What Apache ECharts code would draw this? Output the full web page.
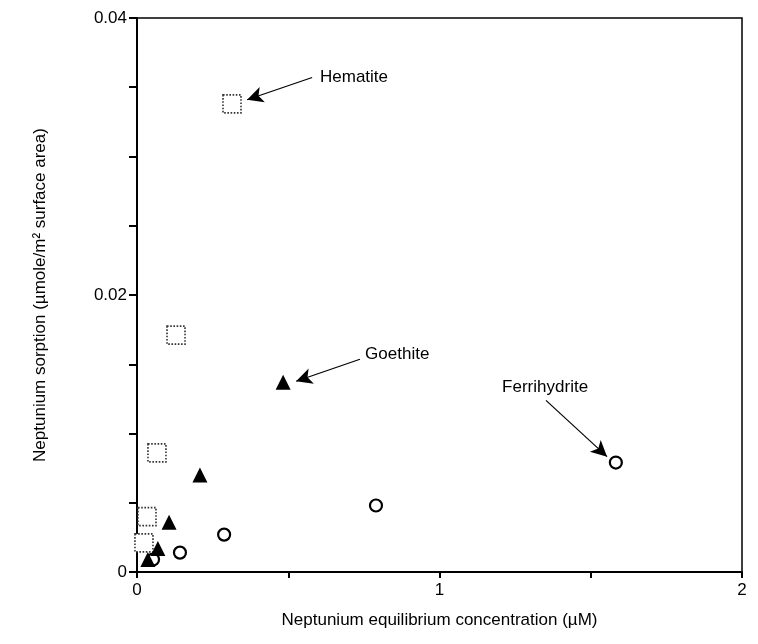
<!DOCTYPE html>
<html>
<head>
<meta charset="utf-8">
<script src="https://cdn.jsdelivr.net/npm/echarts@6/dist/echarts.min.js"></script>
<style>
html, body { margin: 0; padding: 0; background: #fff; }
#main { width: 758px; height: 644px; }
</style>
</head>
<body>
<div id="main"></div>
<script>
// data: [concentration (uM), sorption (umole/m2)]
var hematite = [[0.314, 0.0338], [0.129, 0.0171], [0.066, 0.0086], [0.033, 0.0040], [0.023, 0.0021]];
var goethite = [[0.483, 0.0137], [0.208, 0.0070], [0.106, 0.0036], [0.069, 0.0017], [0.036, 0.0009]];
var ferrihydrite = [[1.583, 0.0079], [0.790, 0.0048], [0.288, 0.0027], [0.142, 0.0014], [0.053, 0.0009]];

// annotations: label position and arrow tail/head, in data units
var labelNames = ['Hematite', 'Goethite', 'Ferrihydrite'];
var labelPos = [[0.605, 0.0357], [0.754, 0.0157], [1.207, 0.0133]];
var arrowFrom = [[0.579, 0.0357], [0.737, 0.01536], [1.352, 0.01239]];
var arrowTo = [[0.364, 0.0341], [0.526, 0.01377], [1.554, 0.00833]];

var font = 'Liberation Sans, Arial, sans-serif';

var arrowLines = [];
for (var i = 0; i < arrowFrom.length; i++) {
	arrowLines.push([{ coord: arrowFrom[i] }, { coord: arrowTo[i] }]);
}
var labelData = [];
for (var i = 0; i < labelNames.length; i++) {
	labelData.push({ name: labelNames[i], value: labelPos[i] });
}

var chart = echarts.init(document.getElementById('main'));
var option = {
	backgroundColor: '#fff',
	animation: false,
	grid: {
		left: 137, right: 16, top: 18, bottom: 72,
		show: true, borderColor: '#000', borderWidth: 1.5
	},
	xAxis: {
		type: 'value', min: 0, max: 2, interval: 0.5,
		name: 'Neptunium equilibrium concentration (\u00b5M)',
		nameLocation: 'middle', nameGap: 40,
		nameTextStyle: { fontFamily: font, fontSize: 17, color: '#000' },
		axisLine: { lineStyle: { color: '#000', width: 2 } },
		axisTick: { length: 6, lineStyle: { color: '#000', width: 2 } },
		axisLabel: {
			fontFamily: font, fontSize: 17, color: '#000', margin: 10,
			formatter: function (v) { return (v % 1 === 0) ? String(v) : ''; }
		},
		splitLine: { show: false }
	},
	yAxis: {
		type: 'value', min: 0, max: 0.04, interval: 0.005,
		name: 'Neptunium sorption (\u00b5mole/m\u00b2 surface area)',
		nameLocation: 'middle', nameGap: 88,
		nameTextStyle: { fontFamily: font, fontSize: 17, color: '#000' },
		axisLine: { lineStyle: { color: '#000', width: 2 } },
		axisTick: { length: 8, lineStyle: { color: '#000', width: 2 } },
		axisLabel: {
			fontFamily: font, fontSize: 17, color: '#000', margin: 10,
			formatter: function (v) {
				var r = Math.round(v * 1000);
				return (r % 20 === 0) ? String(r / 1000) : '';
			}
		},
		splitLine: { show: false }
	},
	series: [
		{
			name: 'Hematite', type: 'scatter', symbol: 'rect', symbolSize: 18,
			itemStyle: { color: '#fff', borderColor: '#333', borderWidth: 1.6, borderType: 'dotted', opacity: 1 },
			data: hematite, z: 3
		},
		{
			name: 'Goethite', type: 'scatter', symbol: 'triangle', symbolSize: 15,
			itemStyle: { color: '#000', opacity: 1 },
			data: goethite, z: 4
		},
		{
			name: 'Ferrihydrite', type: 'scatter', symbol: 'circle', symbolSize: 12,
			itemStyle: { color: 'rgba(255,255,255,0)', borderColor: '#000', borderWidth: 2.2, opacity: 1 },
			data: ferrihydrite, z: 5
		},
		{
			name: 'labels', type: 'scatter', symbolSize: 0, silent: true,
			itemStyle: { opacity: 1 },
			label: {
				show: true, position: 'right', distance: 0,
				formatter: '{b}', fontFamily: font, fontSize: 17, color: '#000'
			},
			data: labelData,
			markLine: {
				silent: true, symbol: ['none', 'arrow'], symbolSize: [12, 16],
				label: { show: false },
				lineStyle: { color: '#000', width: 1.2, type: 'solid', opacity: 1 },
				data: arrowLines
			}
		}
	]
};
chart.setOption(option);
</script>
</body>
</html>
